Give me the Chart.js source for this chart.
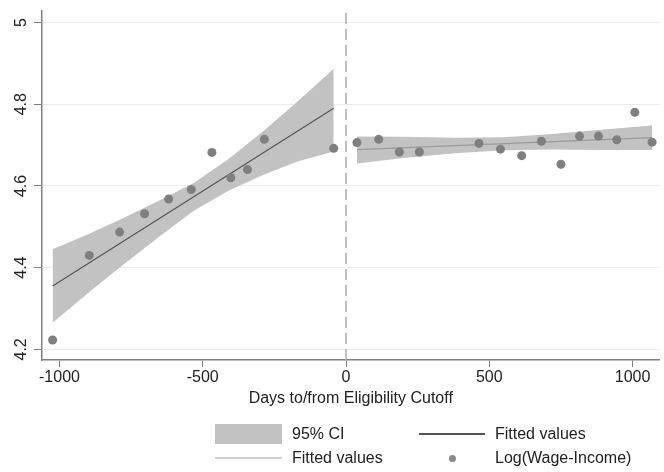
<!DOCTYPE html>
<html>
<head>
<meta charset="utf-8">
<script src="https://cdn.jsdelivr.net/npm/chart.js@4.4.1/dist/chart.umd.min.js"></script>
<style>
  body { margin: 0; background: #fff; }
  #wrap { position: relative; width: 664px; height: 472px; font-family: "Liberation Sans", Arial, sans-serif; }
  canvas { position: absolute; left: 0; top: 0; }
  .lg { position: absolute; font-size: 16px; color: #222; line-height: 16px; white-space: nowrap; }
  .sw { position: absolute; }
</style>
</head>
<body>
<div id="wrap">
  <canvas id="chart" width="664" height="472"></canvas>
  <div class="sw" style="left:215px;top:424px;width:67px;height:20px;background:#c2c2c2"></div>
  <div class="lg" style="left:292px;top:426px">95% CI</div>
  <div class="sw" style="left:419px;top:433px;width:66px;height:2px;background:#555"></div>
  <div class="lg" style="left:495px;top:426px">Fitted values</div>
  <div class="sw" style="left:215px;top:457px;width:67px;height:2px;background:#cfcfcf"></div>
  <div class="lg" style="left:292px;top:450px">Fitted values</div>
  <div class="sw" style="left:449px;top:455px;width:7px;height:7px;border-radius:50%;background:#8a8a8a"></div>
  <div class="lg" style="left:495px;top:450px">Log(Wage-Income)</div>
</div>
<script>
// binned means
const binX = [-1024, -896, -790, -703, -619, -540, -468, -402, -344, -285, -43,
              38, 114, 186, 256, 464, 539, 613, 682, 750, 815, 881, 945, 1008, 1068];
const binY = [4.223, 4.430, 4.487, 4.532, 4.568, 4.591, 4.682, 4.620, 4.640, 4.714, 4.692,
              4.706, 4.714, 4.683, 4.683, 4.704, 4.690, 4.674, 4.709, 4.653, 4.722, 4.722, 4.713, 4.780, 4.707];

// fitted lines
const fitLeftX = [-1024, -43];
const fitLeftY = [4.355, 4.790];
const fitRightX = [38, 1068];
const fitRightY = [4.689, 4.718];

// confidence bands
const ciLeftX = [-1024, -900, -780, -650, -530, -410, -290, -170, -43];
const ciLeftUp = [4.445, 4.482, 4.520, 4.565, 4.608, 4.666, 4.733, 4.806, 4.887];
const ciLeftLo = [4.265, 4.338, 4.406, 4.477, 4.540, 4.588, 4.627, 4.660, 4.684];
const ciRightX = [38, 200, 380, 550, 720, 900, 1068];
const ciRightUp = [4.721, 4.720, 4.718, 4.719, 4.727, 4.738, 4.748];
const ciRightLo = [4.655, 4.668, 4.680, 4.687, 4.689, 4.688, 4.688];

// cutoff
const cutoffX = [0, 0];
const cutoffY = [4.174, 5.029];

const xTicks = [-1000, -500, 0, 500, 1000];
const yTicks = [4.2, 4.4, 4.6, 4.8, 5];

function pts(xs, ys) {
  return xs.map((x, i) => ({ x: x, y: ys[i] }));
}

const lineBase = { showLine: true, pointRadius: 0, fill: false };
const tickFont = { family: "Liberation Sans", size: 16 };

new Chart(document.getElementById("chart"), {
  type: "scatter",
  data: {
    datasets: [
      { data: pts(binX, binY), backgroundColor: "#7f7f7f", borderWidth: 0, pointRadius: 4.5 },
      Object.assign({ data: pts(fitLeftX, fitLeftY), borderColor: "#555", borderWidth: 1.2 }, lineBase),
      Object.assign({ data: pts(fitRightX, fitRightY), borderColor: "#9a9a9a", borderWidth: 1.2 }, lineBase),
      Object.assign({ data: pts(cutoffX, cutoffY), borderColor: "#ababab", borderWidth: 1.5, borderDash: [11, 5] }, lineBase),
      Object.assign({}, lineBase, { data: pts(ciLeftX, ciLeftUp), borderWidth: 0, fill: "+1", backgroundColor: "#c2c2c2" }),
      Object.assign({}, lineBase, { data: pts(ciLeftX, ciLeftLo), borderWidth: 0 }),
      Object.assign({}, lineBase, { data: pts(ciRightX, ciRightUp), borderWidth: 0, fill: "+1", backgroundColor: "#c2c2c2" }),
      Object.assign({}, lineBase, { data: pts(ciRightX, ciRightLo), borderWidth: 0 })
    ]
  },
  options: {
    responsive: false,
    animation: false,
    layout: { padding: { top: 10, right: 0, bottom: 62, left: 0 } },
    plugins: {
      legend: { display: false },
      tooltip: { enabled: false }
    },
    scales: {
      x: {
        type: "linear",
        min: -1061,
        max: 1094,
        afterFit: s => { s.height = 50; },
        afterBuildTicks: s => { s.ticks = xTicks.map(v => ({ value: v })); },
        border: { color: "#808080", width: 1.5 },
        grid: { drawOnChartArea: false, drawTicks: true, tickLength: 7, tickColor: "#808080" },
        ticks: { color: "#222", font: tickFont, padding: 1, maxRotation: 0, callback: v => String(v) },
        title: {
          display: true,
          text: "Days to/from Eligibility Cutoff",
          color: "#222",
          font: tickFont,
          padding: { top: 0, bottom: 2 }
        }
      },
      y: {
        type: "linear",
        min: 4.174,
        max: 5.029,
        afterFit: s => { s.width = 42; },
        afterBuildTicks: s => { s.ticks = yTicks.map(v => ({ value: v })); },
        border: { color: "#808080", width: 1.5 },
        grid: { color: "#ececec", lineWidth: 1, tickLength: 8, tickColor: "#808080" },
        ticks: {
          color: "#222",
          font: tickFont,
          minRotation: 90,
          maxRotation: 90,
          crossAlign: "center",
          padding: 1,
          callback: v => String(v)
        }
      }
    }
  }
});
</script>
</body>
</html>
